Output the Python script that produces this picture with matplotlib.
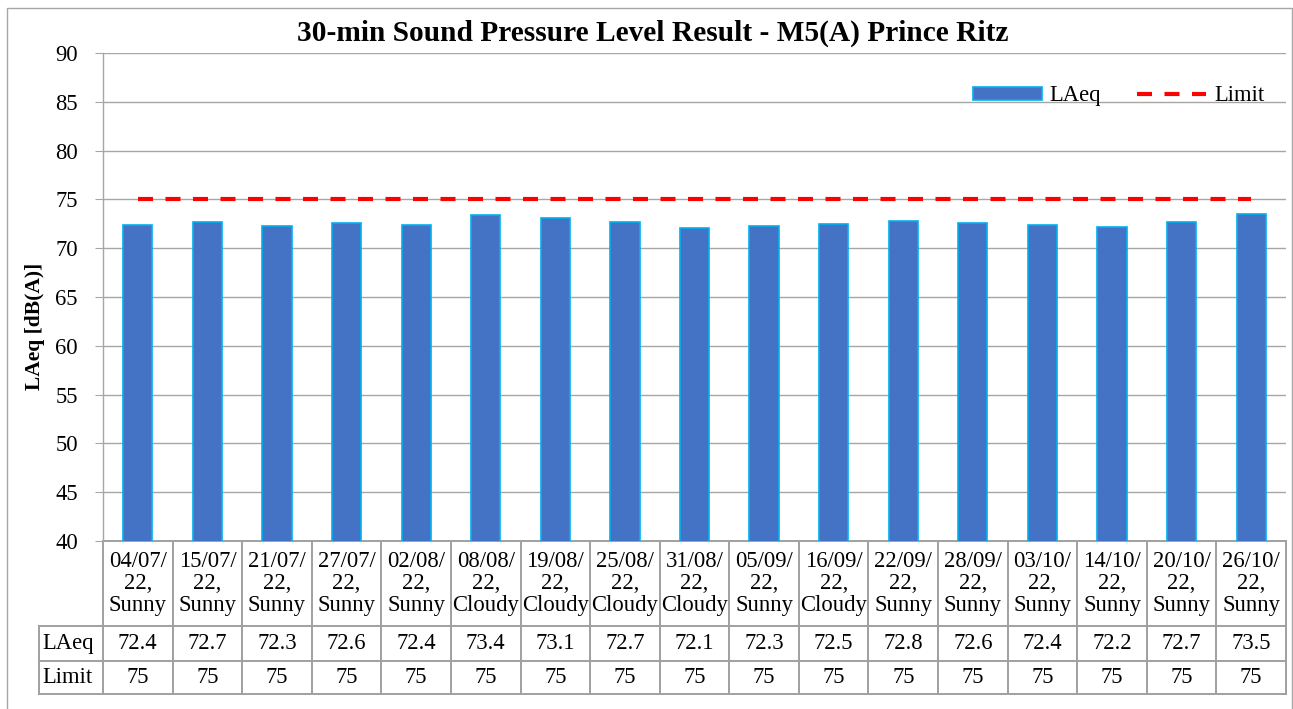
import matplotlib
matplotlib.use("Agg")
import matplotlib.pyplot as plt
from matplotlib.lines import Line2D
from matplotlib.patches import Rectangle
from matplotlib.transforms import blended_transform_factory

plt.rcParams['font.family'] = ['Liberation Serif', 'DejaVu Serif']

# ---- data ----
dates = ["04/07/22", "15/07/22", "21/07/22", "27/07/22", "02/08/22", "08/08/22",
         "19/08/22", "25/08/22", "31/08/22", "05/09/22", "16/09/22", "22/09/22",
         "28/09/22", "03/10/22", "14/10/22", "20/10/22", "26/10/22"]
weather = ["Sunny", "Sunny", "Sunny", "Sunny", "Sunny", "Cloudy", "Cloudy", "Cloudy",
           "Cloudy", "Sunny", "Cloudy", "Sunny", "Sunny", "Sunny", "Sunny", "Sunny", "Sunny"]
laeq = [72.4, 72.7, 72.3, 72.6, 72.4, 73.4, 73.1, 72.7, 72.1, 72.3, 72.5, 72.8,
        72.6, 72.4, 72.2, 72.7, 73.5]
limit = [75] * 17
yticks = [40, 45, 50, 55, 60, 65, 70, 75, 80, 85, 90]
title = "30-min Sound Pressure Level Result - M5(A) Prince Ritz"
ylabel = "LAeq [dB(A)]"

W, H = 1293, 709
FS = 16.3
fig = plt.figure(figsize=(W / 100, H / 100), dpi=100)

# outer chart frame
fig.add_artist(Rectangle((7 / W, -0.01), (1292 - 7) / W, (H - 8) / H + 0.01,
                         transform=fig.transFigure, fill=False,
                         edgecolor='#A6A6A6', linewidth=1.0))

ax = fig.add_axes([103 / W, (H - 541) / H, (1286 - 103) / W, (541 - 53) / H])
n = len(laeq)
x = list(range(n))

bars = ax.bar(x, laeq, width=0.42, color='#4472C4', edgecolor='#00B0F0', linewidth=1.2,
              label='LAeq', zorder=3)
line, = ax.plot(x, limit, color='#FF0000', linewidth=3, dashes=(3.6, 3.0),
                label='Limit', zorder=4)

ax.set_xlim(-0.5, n - 0.5)
ax.set_ylim(40, 90)
ax.set_yticks(yticks)
ax.set_xticks([])
ax.yaxis.grid(True, color='#A6A6A6', linewidth=1.0, zorder=0)
ax.set_axisbelow(True)
for s in ['top', 'right', 'bottom']:
    ax.spines[s].set_visible(False)
ax.spines['left'].set_color('#A6A6A6')
ax.spines['left'].set_linewidth(1.0)
ax.tick_params(axis='y', length=6, color='#A6A6A6', labelsize=FS, pad=12)

fig.text(35 / W, (H - 326) / H, ylabel, rotation=90, ha='center', va='center',
         fontsize=15.5, fontweight='bold')
fig.text((298 + 1008) / 2 / W, (H - 33) / H, title, ha='center', va='center',
         fontsize=21.2, fontweight='bold')

ax.legend([bars, line], ['LAeq', 'Limit'], loc='center right',
          bbox_to_anchor=(1.0, (85.5 - 40) / 50 + 0.002),
          ncol=2, frameon=False, fontsize=FS, handlelength=3.05, handleheight=0.5,
          columnspacing=1.6, handletextpad=0.35, borderaxespad=0.55)

# ---- data table ----
tr = blended_transform_factory(ax.transData, ax.transAxes)
ph = 541 - 53
y0, y1, y2, y3 = 0.0, -(626 - 541) / ph, -(661 - 541) / ph, -(694 - 541) / ph
xl = -0.5 - (103 - 39) / ((1286 - 103) / n)
lc = '#A0A0A0'
lw = 1.4

def hline(xa, xb, yy):
    ax.add_line(Line2D([xa, xb], [yy, yy], transform=tr, color=lc, lw=lw, clip_on=False))

def vline(xx, ya, yb):
    ax.add_line(Line2D([xx, xx], [ya, yb], transform=tr, color=lc, lw=lw, clip_on=False))

hline(-0.5, n - 0.5, y0)
for yy in (y1, y2, y3):
    hline(xl, n - 0.5, yy)
for i in range(n + 1):
    vline(i - 0.5, y0, y3)
vline(xl, y1, y3)

for i in range(n):
    d = dates[i]
    label = d[:6] + "\n" + d[6:] + ",\n" + weather[i]
    ax.text(i, (y0 + y1) / 2, label, transform=tr, ha='center', va='center',
            fontsize=FS, linespacing=1.05, clip_on=False)
    ax.text(i, (y1 + y2) / 2, f"{laeq[i]:.1f}", transform=tr, ha='center', va='center',
            fontsize=FS, clip_on=False)
    ax.text(i, (y2 + y3) / 2, f"{limit[i]}", transform=tr, ha='center', va='center',
            fontsize=FS, clip_on=False)

ax.text(xl + 0.05, (y1 + y2) / 2, "LAeq", transform=tr, ha='left', va='center',
        fontsize=FS, clip_on=False)
ax.text(xl + 0.05, (y2 + y3) / 2, "Limit", transform=tr, ha='left', va='center',
        fontsize=FS, clip_on=False)

fig.savefig("out.png", dpi=100)
